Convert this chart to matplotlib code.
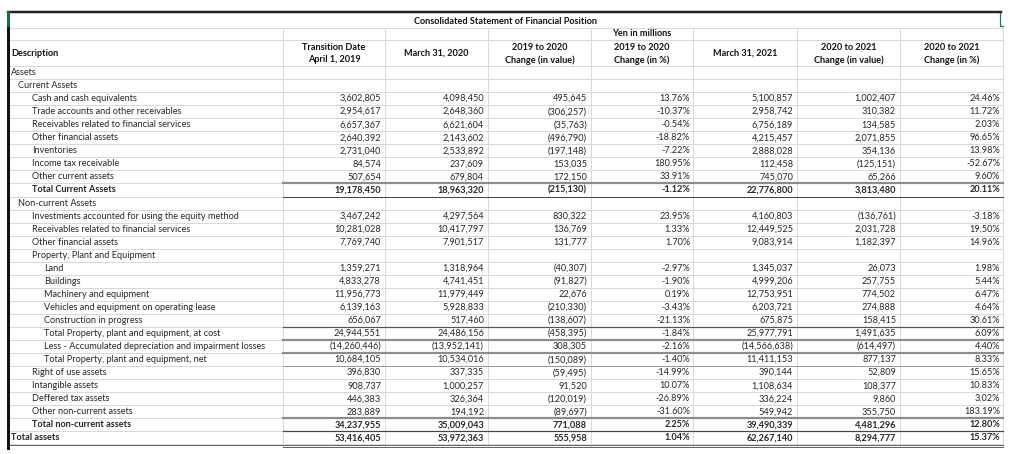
import matplotlib.pyplot as plt

plt.rcParams['font.family'] = ['Lato', 'DejaVu Sans']

### table data
title = "Consolidated Statement of Financial Position"
unit_note = "Yen in millions"
headers = [["Transition Date", "April 1, 2019"], ["March 31, 2020"],
           ["2019 to 2020", "Change (in value)"], ["2019 to 2020", "Change (in %)"],
           ["March 31, 2021"], ["2020 to 2021", "Change (in value)"],
           ["2020 to 2021", "Change (in %)"]]

descriptions = ["Assets", "Current Assets", "Cash and cash equivalents",
                "Trade accounts and other receivables", "Receivables related to financial services",
                "Other financial assets", "Inventories", "Income tax receivable",
                "Other current assets", "Total Current Assets", "Non-current Assets",
                "Investments accounted for using the equity method",
                "Receivables related to financial services", "Other financial assets",
                "Property, Plant and Equipment", "Land", "Buildings", "Machinery and equipment",
                "Vehicles and equipment on operating lease", "Construction in progress",
                "Total Property, plant and equipment, at cost",
                "Less - Accumulated depreciation and impairment losses",
                "Total Property, plant and equipment, net", "Right of use assets",
                "Intangible assets", "Deffered tax assets", "Other non-current assets",
                "Total non-current assets", "Total assets"]
levels = [0, 1, 2, 2, 2, 2, 2, 2, 2, 2, 1, 2, 2, 2, 2, 3, 3, 3, 3, 3, 3, 3, 3, 2, 2, 2, 2, 2, 0]
bold_rows = ["Total Current Assets", "Total non-current assets", "Total assets"]

transition_2019 = [None, None, 3602805, 2954617, 6657367, 2640392, 2731040, 84574, 507654, 19178450,
                   None, 3467242, 10281028, 7769740, None, 1359271, 4833278, 11956773, 6139163,
                   656067, 24944551, -14260446, 10684105, 396830, 908737, 446383, 283889,
                   34237955, 53416405]
march_2020 = [None, None, 4098450, 2648360, 6621604, 2143602, 2533892, 237609, 679804, 18963320,
              None, 4297564, 10417797, 7901517, None, 1318964, 4741451, 11979449, 5928833,
              517460, 24486156, -13952141, 10534016, 337335, 1000257, 326364, 194192,
              35009043, 53972363]
change_1920 = [None, None, 495645, -306257, -35763, -496790, -197148, 153035, 172150, -215130,
               None, 830322, 136769, 131777, None, -40307, -91827, 22676, -210330,
               -138607, -458395, 308305, -150089, -59495, 91520, -120019, -89697,
               771088, 555958]
pct_1920 = [None, None, 13.76, -10.37, -0.54, -18.82, -7.22, 180.95, 33.91, -1.12,
            None, 23.95, 1.33, 1.70, None, -2.97, -1.90, 0.19, -3.43,
            -21.13, -1.84, -2.16, -1.40, -14.99, 10.07, -26.89, -31.60,
            2.25, 1.04]
march_2021 = [None, None, 5100857, 2958742, 6756189, 4215457, 2888028, 112458, 745070, 22776800,
              None, 4160803, 12449525, 9083914, None, 1345037, 4999206, 12753951, 6203721,
              675875, 25977791, -14566638, 11411153, 390144, 1108634, 336224, 549942,
              39490339, 62267140]
change_2021 = [None, None, 1002407, 310382, 134585, 2071855, 354136, -125151, 65266, 3813480,
               None, -136761, 2031728, 1182397, None, 26073, 257755, 774502, 274888,
               158415, 1491635, -614497, 877137, 52809, 108377, 9860, 355750,
               4481296, 8294777]
pct_2021 = [None, None, 24.46, 11.72, 2.03, 96.65, 13.98, -52.67, 9.60, 20.11,
            None, -3.18, 19.50, 14.96, None, 1.98, 5.44, 6.47, 4.64,
            30.61, 6.09, 4.40, 8.33, 15.65, 10.83, 3.02, 183.19,
            12.80, 15.37]

columns = [transition_2019, march_2020, change_1920, pct_1920, march_2021, change_2021, pct_2021]
is_pct = [False, False, False, True, False, False, True]

def fmt_val(v):
    if v is None:
        return ""
    if v < 0:
        return "({:,})".format(-v)
    return "{:,}".format(v)

def fmt_pct(p):
    if p is None:
        return ""
    return "{:.2f}%".format(p)

### layout (pixel coords)
W, H = 1011, 454
col_edges = [8, 283, 385, 488, 591, 693, 797, 900, 1003]
row_top0 = 66
row_h = 13.05
fs = 6.55
grid_c = "#d9d9d9"
txt_c = "#262626"
px = 0.72  # points per pixel

fig = plt.figure(figsize=(W / 100, H / 100), dpi=100)
ax = fig.add_axes([0, 0, 1, 1])
ax.set_xlim(0, W)
ax.set_ylim(H, 0)
ax.axis("off")

n = len(descriptions)
y_bottom = row_top0 + n * row_h

# grid lines
for ly in [28, 40, 66] + [row_top0 + i * row_h for i in range(1, n + 1)]:
    ax.plot([col_edges[0], col_edges[-1]], [ly, ly], color=grid_c, lw=1 * px, zorder=1)
for lx in col_edges[1:]:
    ax.plot([lx, lx], [28, y_bottom + 2], color=grid_c, lw=1 * px, zorder=1)

# outer border (top + left) and excel selection mark
ax.plot([col_edges[0], 1001], [12, 12], color="#222222", lw=2.5 * px, zorder=3)
ax.plot([col_edges[0], col_edges[0]], [12, 28], color="#1e6b3c", lw=3 * px, zorder=3)
ax.plot([col_edges[0], col_edges[0]], [28, y_bottom + 4], color="#111111", lw=3 * px, zorder=3)
ax.plot([1000, 1000, 1003], [13, 26, 26], color="#217346", lw=1.2 * px, zorder=3)

# title rows
ax.text((col_edges[0] + col_edges[-1]) / 2, 21, title, ha="center", va="center",
        fontsize=fs, fontweight="bold", color="#111111")
ax.text((col_edges[4] + col_edges[5]) / 2, 34, unit_note, ha="center", va="center",
        fontsize=fs, fontweight="bold", color="#111111")
ax.text(11, 53.5, "Description", ha="left", va="center", fontsize=fs, fontweight="bold", color="#111111")
for j, hdr in enumerate(headers):
    cx = (col_edges[j + 1] + col_edges[j + 2]) / 2
    if len(hdr) == 2:
        ax.text(cx, 47, hdr[0], ha="center", va="center", fontsize=fs, fontweight="bold", color="#111111")
        ax.text(cx, 60, hdr[1], ha="center", va="center", fontsize=fs, fontweight="bold", color="#111111")
    else:
        ax.text(cx, 53.5, hdr[0], ha="center", va="center", fontsize=fs, fontweight="bold", color="#111111")

# body
indent = {0: 11, 1: 18, 2: 32, 3: 44}
for i, desc in enumerate(descriptions):
    yc = row_top0 + i * row_h + row_h / 2
    wt = "bold" if desc in bold_rows else "normal"
    ax.text(indent[levels[i]], yc, desc, ha="left", va="center", fontsize=fs, fontweight=wt, color=txt_c)
    for j, col in enumerate(columns):
        txt = fmt_pct(col[i]) if is_pct[j] else fmt_val(col[i])
        pad = 3 if is_pct[j] else 4
        ax.text(col_edges[j + 2] - pad, yc, txt, ha="right", va="center", fontsize=fs,
                fontweight=wt, color=txt_c)

# accounting borders on total rows (numeric columns only)
def hline(row_idx, color, lw):
    ly = row_top0 + row_idx * row_h
    ax.plot([col_edges[1], col_edges[-1]], [ly, ly], color=color, lw=lw * px, zorder=2)

i_tc = descriptions.index("Total Current Assets")
i_cost = descriptions.index("Total Property, plant and equipment, at cost")
i_tnc = descriptions.index("Total non-current assets")
hline(i_tc, "#8c8c8c", 2.2)
hline(i_tc + 1, "#444444", 1)
hline(i_cost, "#555555", 1.2)
hline(i_cost + 1, "#8c8c8c", 2.2)
hline(i_cost + 2, "#8c8c8c", 2.2)
hline(i_cost + 3, "#9a9a9a", 1)
hline(i_tnc, "#8c8c8c", 2.2)
hline(i_tnc + 1, "#444444", 1.2)
ly = row_top0 + n * row_h
ax.plot([col_edges[0], col_edges[-1]], [ly + 0.5, ly + 0.5], color="#666666", lw=1 * px, zorder=2)
ax.plot([col_edges[1], col_edges[-1]], [ly + 3, ly + 3], color="#666666", lw=1 * px, zorder=2)

fig.savefig("out.png", dpi=100)
